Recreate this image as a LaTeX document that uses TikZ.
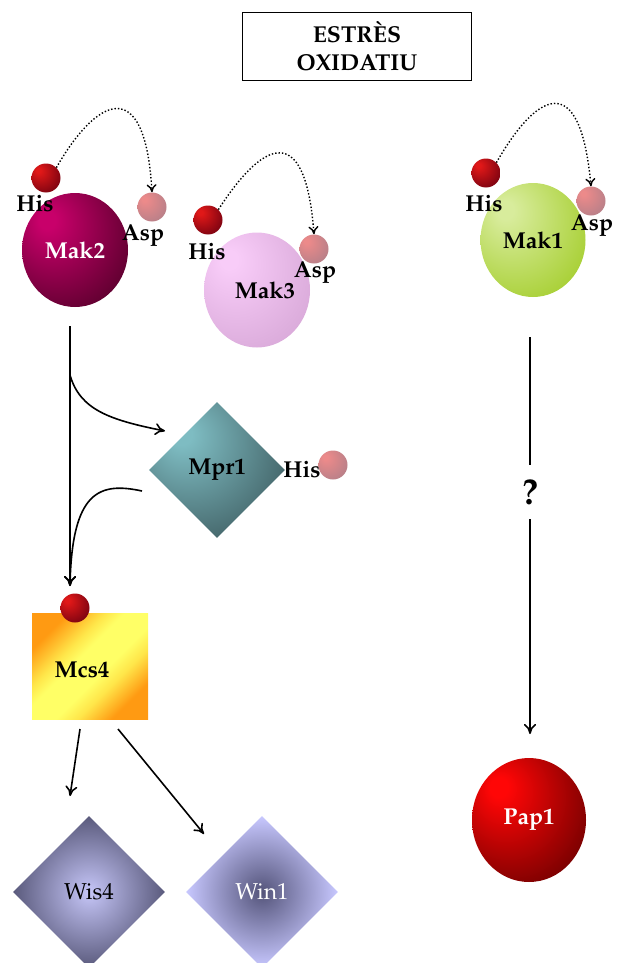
\documentclass[tikz,border=0pt]{standalone}
\usepackage[T1]{fontenc}
\usepackage{mathpazo}
\usetikzlibrary{arrows.meta,shapes.geometric}

% off-centre radial shading: light spot at the top left, dark towards the bottom right
% (the shaded path fills the central 50bp square of the shading)
\pgfdeclareradialshading[glowlite,glowdark]{glow}{\pgfpoint{-14bp}{14bp}}{%
  color(0bp)=(glowlite); color(4bp)=(glowlite); color(40bp)=(glowdark); color(70bp)=(glowdark)}
% diagonal band: orange corners, yellow middle
\definecolor{bandO}{HTML}{FF9A12}\definecolor{bandY}{HTML}{FFFF66}\definecolor{bandM}{HTML}{FFE64A}
\pgfdeclarehorizontalshading{bandshade}{100bp}{%
  color(0bp)=(bandO); color(26bp)=(bandO); color(38bp)=(bandM); color(44bp)=(bandY);
  color(56bp)=(bandY); color(63bp)=(bandM); color(74bp)=(bandO); color(100bp)=(bandO)}

\definecolor{hisL}{HTML}{E01818}\definecolor{hisD}{HTML}{6E0010}
\definecolor{aspL}{HTML}{EC8A8A}\definecolor{aspD}{HTML}{B07E88}
\definecolor{mak2L}{HTML}{C8006A}\definecolor{mak2D}{HTML}{520028}
\definecolor{mak3L}{HTML}{F8CCF8}\definecolor{mak3D}{HTML}{D6A6D6}
\definecolor{mak1L}{HTML}{D8EC9C}\definecolor{mak1D}{HTML}{A2CC28}
\definecolor{mprL}{HTML}{7EBCC2}\definecolor{mprD}{HTML}{3A565A}
\definecolor{papL}{HTML}{FF0606}\definecolor{papD}{HTML}{680000}
\definecolor{wisIn}{HTML}{C6C6F8}\definecolor{wisOut}{HTML}{5A5A7C}
\definecolor{winIn}{HTML}{54547A}\definecolor{winOut}{HTML}{C8C8FF}

\tikzset{
  x=1pt, y=-1pt,
  lbl/.style={font=\fontsize{23}{25}\selectfont\bfseries, inner sep=0pt},
  glowball/.style 2 args={shade, shading=glow,
    /utils/exec={\colorlet{glowlite}{#1}\colorlet{glowdark}{#2}}},
  protein/.style={ellipse, inner sep=0pt, lbl},
  res/.style={circle, minimum size=29pt, inner sep=0pt},
  his/.style={res, glowball={hisL}{hisD}},
  asp/.style={res, glowball={aspL}{aspD}},
  kite/.style={diamond, inner sep=0pt, aspect=1},
  flow/.style={line width=1.6pt, -{To[length=10pt,width=12pt]}},
  transfer/.style={line width=1.4pt, dotted, -{To[length=8pt,width=10pt]}},
}

\begin{document}
\begin{tikzpicture}
\useasboundingbox (0,0) rectangle (618,963);

% stimulus
\node[draw, line width=0.9pt, minimum width=229pt, minimum height=68pt, align=center,
      font=\fontsize{23}{28}\selectfont\bfseries] (stress) at (357,46) {ESTRÈS\\OXIDATIU};

% Mak2
\node[protein, minimum width=106pt, minimum height=114pt, glowball={mak2L}{mak2D},
      text=white] (mak2) at (75,250) {Mak2};
\node[his] (his2) at (46,178) {};
\node[lbl] (his2l) at (35,204) {His};
\node[asp] (asp2) at (152,207) {};
\node[lbl] (asp2l) at (143,235) {Asp};
\draw[transfer] (his2.north east) .. controls (95,100) and (145,70) .. (asp2.north);

% Mak3
\node[protein, minimum width=106pt, minimum height=115pt, glowball={mak3L}{mak3D}]
      (mak3) at (257,290) {};
\node[lbl] (mak3l) at (265,290) {Mak3};
\node[his] (his3) at (208,220) {};
\node[lbl] (his3l) at (207,252) {His};
\node[asp] (asp3) at (314,249) {};
\node[lbl] (asp3l) at (315,272) {Asp};
\draw[transfer] (his3.north east) .. controls (260,145) and (305,115) .. (asp3.north);

% Mak1
\node[protein, minimum width=105pt, minimum height=114pt, glowball={mak1L}{mak1D}]
      (mak1) at (533,240) {Mak1};
\node[his] (his1) at (486,173) {};
\node[lbl] (his1l) at (484,204) {His};
\node[asp] (asp1) at (591,201) {};
\node[lbl] (asp1l) at (592,225) {Asp};
\draw[transfer] (his1.north east) .. controls (535,95) and (580,65) .. (asp1.north);

% Mpr1
\node[kite, minimum size=136pt, glowball={mprL}{mprD}, lbl] (mpr1) at (217,470) {Mpr1};
\node[lbl] (mprhl) at (302,470) {His};
\node[asp] (mprh) at (333,465) {};

% Mcs4
\node[minimum width=116pt, minimum height=106pt, inner sep=0pt, shade, shading=bandshade,
      shading angle=-45] (mcs4) at (90,666) {};
\node[lbl] (mcs4l) at (82,670) {Mcs4};
\node[his] (hism) at (75,608) {};

% Wis4 and Win1
\node[kite, minimum size=152pt, inner color=wisIn, outer color=wisOut,
      font=\fontsize{23}{25}\selectfont] (wis4) at (89,892) {Wis4};
\node[kite, minimum size=152pt, inner color=winIn, outer color=winOut,
      text=white, font=\fontsize{23}{25}\selectfont] (win1) at (262,892) {Win1};

% Pap1
\node[protein, minimum width=114pt, minimum height=124pt, glowball={papL}{papD},
      text=white] (pap1) at (529,820) {Pap1};

% Mak2 -> Mpr1 -> Mcs4 phosphorelay
\coordinate (top2) at (70,326);
\coordinate (fork) at (70,375);
\coordinate (mcsin) at (70,586);
\coordinate (mprout) at (142,491);
\coordinate (mprin) at (165,431);
\draw[line width=1.6pt] (top2) -- (fork);
\draw[flow] (fork) -- (mcsin);
\draw[flow] (fork) .. controls (80,410) and (110,420) .. (mprin);
\draw[flow] (mprout) .. controls (100,482) and (72,490) .. (mcsin);

% Mcs4 outputs
\coordinate (m1) at (80,729);
\coordinate (m2) at (118,729);
\coordinate (w1) at (70,796);
\coordinate (w2) at (204,834);
\draw[flow] (m1) -- (w1);
\draw[flow] (m2) -- (w2);

% Mak1 -> Pap1, unknown link
\node[font=\fontsize{36}{38}\selectfont\bfseries, inner sep=0pt] (unk) at (530,492) {?};
\coordinate (top1) at (530,337);
\coordinate (pap1in) at (530,734);
\draw[line width=1.6pt] (top1) -- ([yshift=14pt]unk.north);
\draw[flow] ([yshift=-14pt]unk.south) -- (pap1in);
\end{tikzpicture}
\end{document}
